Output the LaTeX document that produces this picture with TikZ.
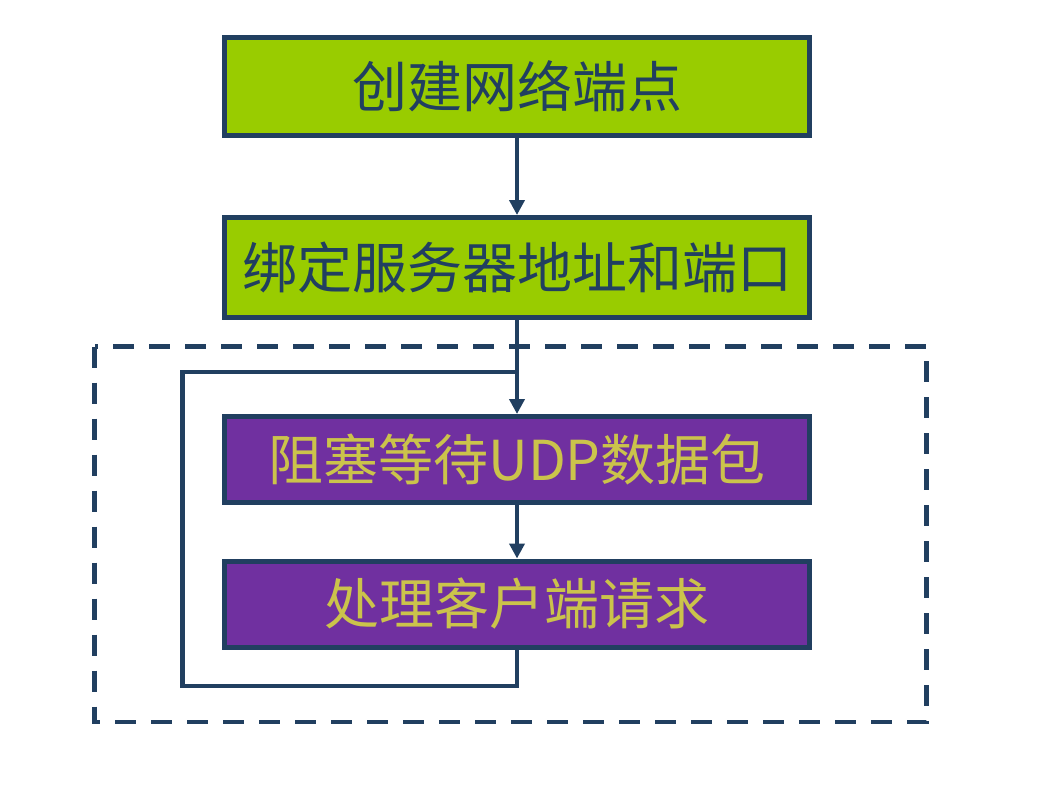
\documentclass[tikz,border=0pt]{standalone}
\usepackage{fontspec}
\setmainfont{Noto Sans CJK SC}
\usetikzlibrary{arrows.meta}
\definecolor{bord}{HTML}{213F60}
\definecolor{grn}{HTML}{99CC00}
\definecolor{purp}{HTML}{7030A0}
\definecolor{ylw}{HTML}{CBC34B}
\begin{document}
\begin{tikzpicture}[x=1pt,y=-1pt,
  gbox/.style={draw=bord,line width=5pt,fill=grn,text=bord,minimum width=585pt,inner sep=0pt,font=\fontsize{55}{62}\selectfont},
  pbox/.style={draw=bord,line width=5pt,fill=purp,text=ylw,minimum width=585pt,minimum height=86pt,inner sep=0pt,font=\fontsize{55}{62}\selectfont},
  conn/.style={draw=bord,line width=4pt,-{Triangle[length=15pt,width=15pt]}},
  loopline/.style={draw=bord,line width=4.5pt}]
\useasboundingbox (0,0) rectangle (1059,788);
\fill[white] (0,0) rectangle (1059,788);
\draw[bord,line width=4.5pt,dash pattern=on 21pt off 15pt] (94.5,346.5) rectangle (926.5,722);
\node[gbox,minimum height=98pt] (b1) at (517,86.5) {创建网络端点};
\node[gbox,minimum height=100pt] (b2) at (517,267.5) {绑定服务器地址和端口};
\node[pbox] (b3) at (517,459.5) {阻塞等待UDP数据包};
\node[pbox] (b4) at (517,604) {处理客户端请求};
\coordinate (l1) at (517,686);
\coordinate (l2) at (182.5,686);
\coordinate (l3) at (182.5,372);
\coordinate (l4) at (517,372);
\draw[conn] (b1.south) -- (b2.north);
\draw[conn] (b2.south) -- (b3.north);
\draw[conn] (b3.south) -- (b4.north);
\draw[loopline,line join=miter] (b4.south) -- (l1) -- (l2) -- (l3) -- (l4);
\end{tikzpicture}
\end{document}
